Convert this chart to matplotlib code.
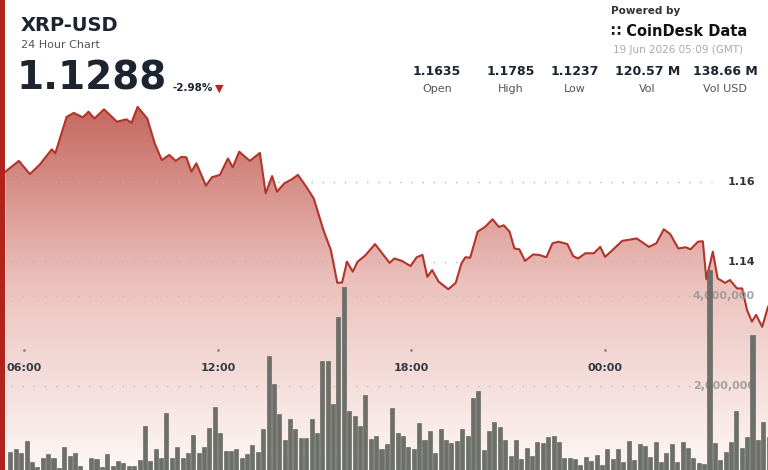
import matplotlib.pyplot as plt
import numpy as np
from matplotlib.patches import Polygon, Rectangle
from matplotlib.colors import LinearSegmentedColormap

# hours after 06:00
price_hours = [-0.59, -0.17, 0.17, 0.47, 0.85, 0.96, 1.31, 1.53, 1.81, 1.99, 2.17, 2.47, 2.87, 3.17,
               3.32, 3.51, 3.81, 4.04, 4.26, 4.49, 4.69, 4.87, 5.02, 5.18, 5.33, 5.63, 5.81, 6.06,
               6.31, 6.46, 6.66, 6.99, 7.30, 7.48, 7.68, 7.83, 8.06, 8.29, 8.48, 8.74, 8.97, 9.27,
               9.50, 9.70, 9.85, 10.00, 10.18, 10.33, 10.56, 10.87, 11.09, 11.32, 11.47, 11.70,
               11.97, 12.16, 12.34, 12.49, 12.64, 12.84, 13.14, 13.37, 13.55, 13.67, 13.82, 14.05,
               14.28, 14.51, 14.71, 14.86, 15.04, 15.19, 15.34, 15.52, 15.77, 15.95, 16.18, 16.37,
               16.56, 16.83, 17.01, 17.16, 17.39, 17.65, 17.85, 18.00, 18.23, 18.53, 18.98, 19.36,
               19.59, 19.82, 20.02, 20.27, 20.50, 20.65, 20.88, 21.03, 21.14, 21.34, 21.49, 21.72,
               21.87, 22.09, 22.25, 22.40, 22.55, 22.68, 22.87, 23.05]
prices = [1.1626, 1.1653, 1.1620, 1.1643, 1.1682, 1.1672, 1.1763, 1.1773, 1.1762, 1.1776, 1.1759,
          1.1782, 1.1751, 1.1757, 1.1748, 1.1788, 1.1759, 1.1697, 1.1655, 1.1668, 1.1653, 1.1663,
          1.1662, 1.1626, 1.1647, 1.1591, 1.1612, 1.1618, 1.1659, 1.1637, 1.1676, 1.1653, 1.1673,
          1.1572, 1.1615, 1.1576, 1.1597, 1.1607, 1.1618, 1.1588, 1.1559, 1.1480, 1.1430, 1.1348,
          1.1349, 1.1401, 1.1376, 1.1401, 1.1416, 1.1445, 1.1422, 1.1398, 1.1409, 1.1403, 1.1390,
          1.1412, 1.1418, 1.1363, 1.1380, 1.1351, 1.1332, 1.1348, 1.1397, 1.1412, 1.1411, 1.1476,
          1.1488, 1.1507, 1.1488, 1.1492, 1.1476, 1.1434, 1.1432, 1.1403, 1.1419, 1.1418, 1.1412,
          1.1447, 1.1451, 1.1445, 1.1415, 1.1409, 1.1422, 1.1422, 1.1438, 1.1413, 1.1430, 1.1453,
          1.1459, 1.1438, 1.1447, 1.1482, 1.1470, 1.1434, 1.1437, 1.1432, 1.1451, 1.1452, 1.1357,
          1.1426, 1.1359, 1.1348, 1.1355, 1.1334, 1.1334, 1.1280, 1.1251, 1.1268, 1.1238, 1.1288]

# 10 minute volume bars, millions
volumes = [0.54, 0.59, 0.52, 0.78, 0.31, 0.21, 0.41, 0.48, 0.41, 0.17, 0.64, 0.44, 0.51, 0.22,
           0.10, 0.39, 0.38, 0.21, 0.49, 0.22, 0.33, 0.28, 0.22, 0.22, 0.35, 1.11, 0.34, 0.59,
           0.39, 1.39, 0.41, 0.65, 0.40, 0.52, 0.91, 0.52, 0.64, 1.06, 1.54, 0.95, 0.56, 0.56,
           0.59, 0.41, 0.49, 0.69, 0.54, 1.04, 2.66, 2.04, 1.38, 0.81, 1.26, 1.04, 0.84, 0.84,
           1.27, 0.95, 2.55, 2.55, 1.61, 3.53, 4.21, 1.44, 1.33, 1.12, 1.80, 0.83, 0.89, 0.61,
           0.71, 1.52, 0.96, 0.89, 0.64, 0.59, 1.17, 0.80, 1.00, 0.52, 1.04, 0.80, 0.73, 0.78,
           1.04, 0.89, 1.73, 1.88, 0.58, 1.01, 1.21, 1.08, 0.80, 0.45, 0.80, 0.38, 0.62, 0.45,
           0.75, 0.73, 0.87, 0.89, 0.75, 0.39, 0.39, 0.37, 0.25, 0.43, 0.33, 0.46, 0.25, 0.60,
           0.38, 0.59, 0.32, 0.78, 0.36, 0.70, 0.67, 0.43, 0.76, 0.32, 0.50, 0.71, 0.30, 0.75,
           0.62, 0.39, 0.28, 0.26, 4.58, 0.74, 0.36, 0.54, 0.76, 1.45, 0.62, 0.86, 3.13, 0.81,
           1.19, 0.87]
first_bar = -0.43

tick_hours = [0, 6, 12, 18]
tick_labels = ['06:00', '12:00', '18:00', '00:00']

line_red = '#b3342b'
dark = '#1c2430'

fig = plt.figure(figsize=(7.68, 4.7), dpi=100)
fig.patch.set_facecolor('white')

ax = fig.add_axes([0.0065, 0.0, 0.9935, 0.787])
ax.set_xlim(-0.6, 23.05)
ax.set_ylim(1.088, 1.1805)
ax.axis('off')

# gradient under the price line
grad = np.linspace(0, 1, 256).reshape(-1, 1)
cmap = LinearSegmentedColormap.from_list('g', ['#fdf7f6', '#ecc2bd', '#c4645c'])
im = ax.imshow(grad, cmap=cmap, aspect='auto', origin='lower',
               extent=[-0.6, 23.05, 1.088, 1.1805], zorder=1)
poly = Polygon(list(zip(price_hours, prices)) + [(price_hours[-1], 1.088), (price_hours[0], 1.088)],
               closed=True, transform=ax.transData, facecolor='none', edgecolor='none')
ax.add_patch(poly)
im.set_clip_path(poly)

for val in [1.16, 1.14]:
    ax.plot([-0.4, 21.3], [val, val], ls=(0, (1, 7)), color='#b5b5b5', lw=1, zorder=2)
    ax.text(22.65, val, f'{val:.2f}', ha='right', va='center', fontsize=8,
            fontweight='bold', color='#333333', zorder=6)

ax.plot(price_hours, prices, color=line_red, lw=1.5, zorder=5)

# volume axis
vx = ax.twinx()
vx.set_xlim(-0.6, 23.05)
vx.set_ylim(0.133, 8.356)
vx.axis('off')
bar_hours = [first_bar + i / 6 for i in range(len(volumes))]
vx.bar(bar_hours, volumes, width=0.125, color='#6d706a', edgecolor='#5a5d58', lw=0.4, zorder=4)
for val, lab in [(4, '4,000,000'), (2, '2,000,000')]:
    vx.plot([-0.4, 21.0], [val, val], ls=(0, (1, 7)), color='#bcbcbc', lw=1, zorder=2)
    vx.text(22.65, val, lab, ha='right', va='center', fontsize=8, fontweight='bold',
            color='#9a9a9a', alpha=0.9, zorder=3)

for h, lab in zip(tick_hours, tick_labels):
    vx.text(h, 2.4, lab, ha='center', va='center', fontsize=8, fontweight='bold', color='#333a44')
    vx.plot([h], [2.8], marker='.', ms=2, color='#888888')

# left red border
fig.patches.append(Rectangle((0, 0), 0.0065, 1, transform=fig.transFigure,
                             facecolor='#b0241b', edgecolor='none'))

# header
fig.text(0.027, 0.945, 'XRP-USD', fontsize=14, fontweight='bold', color=dark, va='center')
fig.text(0.027, 0.905, '24 Hour Chart', fontsize=8, color='#555555', va='center')
fig.text(0.022, 0.832, '1.1288', fontsize=28, fontweight='bold', color=dark, va='center')
fig.text(0.224, 0.812, '-2.98%', fontsize=7.5, fontweight='bold', color=dark, va='center')
fig.text(0.285, 0.812, '\u25bc', fontsize=8, color='#b3261e', va='center', ha='center')

stats = [('1.1635', 'Open', 0.569), ('1.1785', 'High', 0.665), ('1.1237', 'Low', 0.748),
         ('120.57 M', 'Vol', 0.843), ('138.66 M', 'Vol USD', 0.944)]
for val, lab, x in stats:
    fig.text(x, 0.848, val, fontsize=9, fontweight='bold', color=dark, ha='center', va='center')
    fig.text(x, 0.810, lab, fontsize=8, color='#555555', ha='center', va='center')

fig.text(0.795, 0.977, 'Powered by', fontsize=7.5, fontweight='bold', color='#333333', va='center')
fig.text(0.795, 0.934, '\u2237 CoinDesk Data', fontsize=10.5, fontweight='bold', color='#111111',
         va='center')
fig.text(0.968, 0.893, '19 Jun 2026 05:09 (GMT)', fontsize=7.5, color='#aaaaaa', va='center',
         ha='right')

fig.savefig('out.png', dpi=100, facecolor='white')
